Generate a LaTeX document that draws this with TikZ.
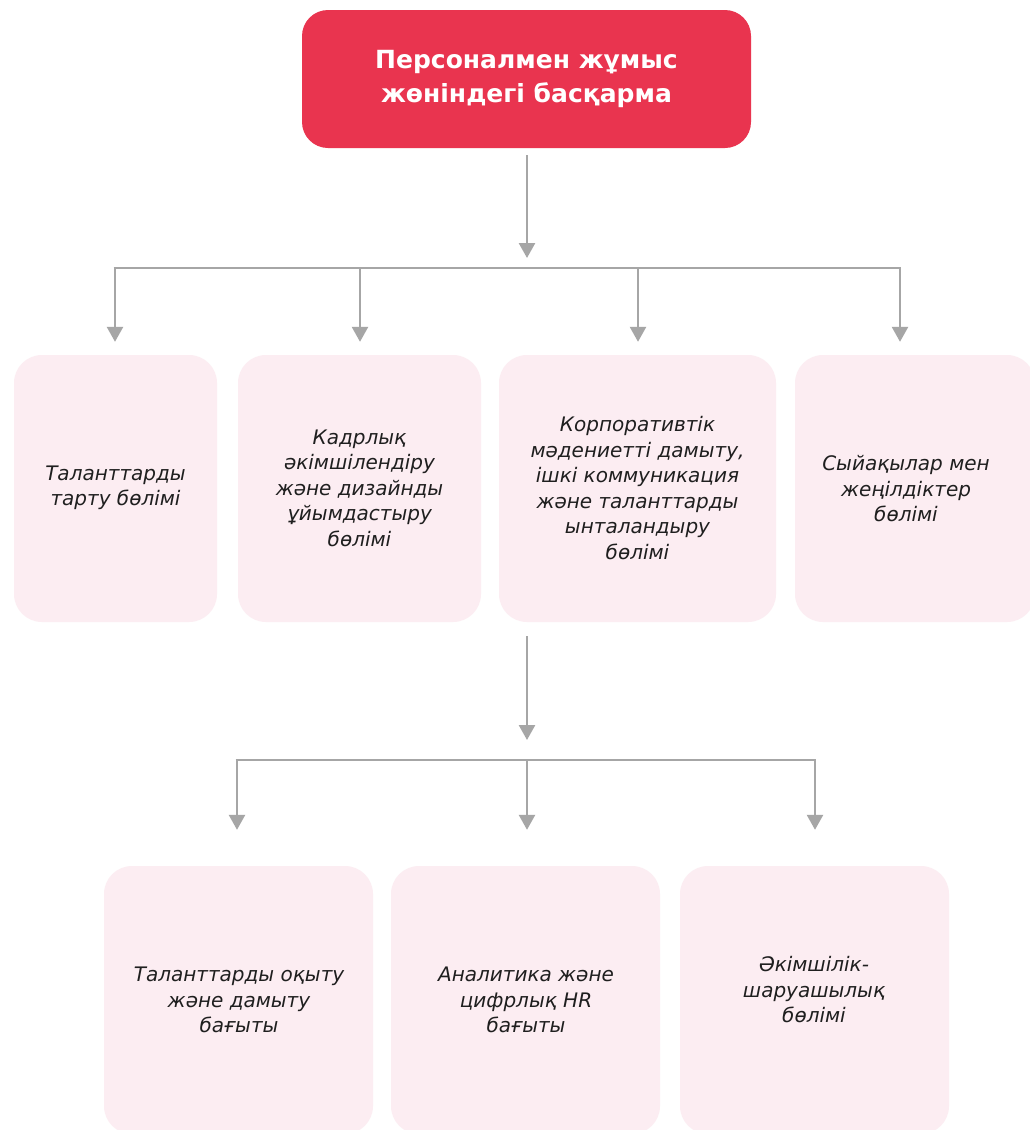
\documentclass[tikz,border=0pt]{standalone}
\usepackage{fontspec}
\setmainfont{DejaVu Sans}
\usetikzlibrary{arrows.meta}
\definecolor{topred}{HTML}{E9344F}
\definecolor{boxpink}{HTML}{FCEDF2}
\definecolor{linegray}{HTML}{A6A6A6}
\definecolor{txt}{HTML}{1F1F1F}
\tikzset{
  box/.style={draw=none, fill=boxpink, rounded corners=28pt, inner sep=0pt},
  topbox/.style={draw=none, fill=topred, rounded corners=26pt, inner sep=0pt,
    minimum width=449pt, minimum height=138pt, text=white, align=center,
    font=\bfseries\fontsize{25}{34}\selectfont},
  lbl/.style={align=center, text=txt, inner sep=0pt, font=\itshape\fontsize{20}{25.5}\selectfont},
  conn/.style={draw=linegray, line width=2.6pt},
  arr/.style={conn, -{Triangle[width=16pt,length=15pt]}},
}
\begin{document}
\begin{tikzpicture}[x=1pt,y=-1pt]
\useasboundingbox[fill=white] (0,0) rectangle (1030,1130);
\begin{scope}
\clip (0,0) rectangle (1030,1130);
% top
\node[topbox] (T) at (526.5,79) {Персоналмен жұмыс\\жөніндегі басқарма};
% row 1 boxes
\node[box, minimum width=203pt, minimum height=267pt] (A) at (115.5,488.5) {};
\node[box, minimum width=243pt, minimum height=267pt] (B) at (359.5,488.5) {};
\node[box, minimum width=277pt, minimum height=267pt] (C) at (637.5,488.5) {};
\node[box, minimum width=240pt, minimum height=267pt] (D) at (915,488.5) {};
% row 2 boxes
\node[box, minimum width=269pt, minimum height=268pt] (E) at (238.5,1000) {};
\node[box, minimum width=269pt, minimum height=268pt] (F) at (525.5,1000) {};
\node[box, minimum width=269pt, minimum height=268pt] (G) at (814.5,1000) {};
\end{scope}
% texts
\node[lbl] (At) at (115.5,488) {Таланттарды\\тарту бөлімі};
\node[lbl] (Bt) at (359.5,488) {Кадрлық\\әкімшілендіру\\және дизайнды\\ұйымдастыру\\бөлімі};
\node[lbl] (Ct) at (637.5,488) {Корпоративтік\\мәдениетті дамыту,\\ішкі коммуникация\\және таланттарды\\ынталандыру\\бөлімі};
\node[lbl] (Dt) at (906,489) {Сыйақылар мен\\жеңілдіктер\\бөлімі};
\node[lbl] (Et) at (239,1000) {Таланттарды оқыту\\және дамыту\\бағыты};
\node[lbl] (Ft) at (526,1000) {Аналитика және\\цифрлық HR\\бағыты};
\node[lbl] (Gt) at (814,990) {Әкімшілік-\\шаруашылық\\бөлімі};
% connectors level 1
\coordinate (t0) at (527,155);
\coordinate (t1) at (527,258);
\draw[arr] (t0) -- (t1);
\coordinate (b1) at (115,268);
\coordinate (b2) at (360,268);
\coordinate (b3) at (638,268);
\coordinate (b4) at (900,268);
\draw[conn] ([xshift=-1.3pt]b1) -- ([xshift=1.3pt]b4);
\foreach \c/\n in {b1/A,b2/B,b3/C,b4/D}
  \draw[arr, shorten >=13pt] (\c) -- (\c |- \n.north);
% connectors level 2
\coordinate (m0) at (527,636);
\coordinate (m1) at (527,740);
\draw[arr] (m0) -- (m1);
\coordinate (c1) at (237,760);
\coordinate (c2) at (527,760);
\coordinate (c3) at (815,760);
\draw[conn] ([xshift=-1.3pt]c1) -- ([xshift=1.3pt]c3);
\foreach \c/\n in {c1/E,c2/F,c3/G}
  \draw[arr, shorten >=36pt] (\c) -- (\c |- \n.north);
\end{tikzpicture}
\end{document}
